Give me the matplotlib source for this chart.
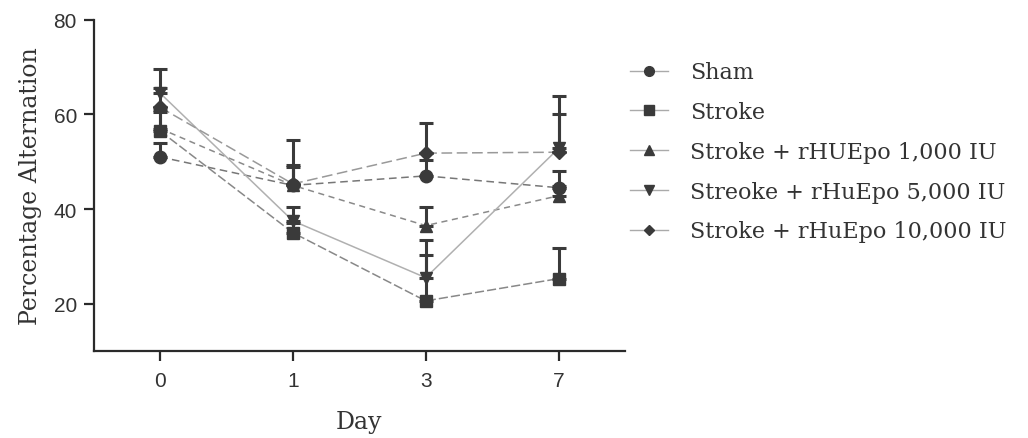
import numpy as np
import matplotlib
matplotlib.use('Agg')
import matplotlib.pyplot as plt

# data (upper SEM only)
days = ['0', '1', '3', '7']
sham = [51.0, 45.0, 47.0, 44.5]
sham_err = [3.0, 3.8, 3.3, 3.6]
stroke = [56.5, 35.0, 20.6, 25.3]
stroke_err = [4.0, 2.0, 9.6, 6.4]
epo1000 = [57.0, 45.0, 36.5, 42.8]
epo1000_err = [4.0, 9.6, 4.0, 2.0]
epo5000 = [64.5, 37.5, 25.5, 52.8]
epo5000_err = [5.0, 3.0, 8.0, 11.0]
epo10000 = [61.5, 45.3, 51.8, 52.0]
epo10000_err = [4.0, 4.0, 6.4, 8.0]

labels = ['Sham', 'Stroke', 'Stroke + rHUEpo 1,000 IU',
          'Streoke + rHuEpo 5,000 IU', 'Stroke + rHuEpo 10,000 IU']
series = [sham, stroke, epo1000, epo5000, epo10000]
errs = [sham_err, stroke_err, epo1000_err, epo5000_err, epo10000_err]
markers = ['o', 's', '^', 'v', 'D']
msizes = [9, 9, 9, 9, 7]
styles = [(0, (5, 3)), (0, (6, 2)), (0, (4, 3)), '-', (0, (7, 3))]
lcolors = ['#777777', '#888888', '#8a8a8a', '#b0b0b0', '#999999']

fig = plt.figure(figsize=(10.28, 4.39), dpi=100)
ax = fig.add_axes([0.091, 0.198, 0.517, 0.755])

x = np.arange(len(days))
mk = '#3a3a3a'
for y, e, m, ms, ls, lc, lab in zip(series, errs, markers, msizes, styles, lcolors, labels):
    ax.errorbar(x, y, yerr=[np.zeros(len(e)), e], fmt='none', ecolor=mk,
                elinewidth=2.2, capsize=5, capthick=2.2, zorder=3)
    ax.plot(x, y, linestyle=ls, color=lc, linewidth=1.1, zorder=2)
    ax.plot(x, y, linestyle='none', marker=m, markersize=ms, color=mk, zorder=4)
    ax.plot([], [], linestyle='-', color='#aaaaaa', linewidth=1.0,
            marker=m, markersize=ms - 2, markerfacecolor=mk, markeredgecolor=mk, label=lab)

ax.set_xlim(-0.5, 3.5)
ax.set_ylim(10, 80)
ax.set_xticks(x)
ax.set_xticklabels(days, fontfamily='Liberation Sans', fontsize=15)
ax.set_yticks([20, 40, 60, 80])
ax.set_yticklabels(['20', '40', '60', '80'], fontfamily='Liberation Sans', fontsize=15)
for s in ['top', 'right']:
    ax.spines[s].set_visible(False)
for s in ['left', 'bottom']:
    ax.spines[s].set_linewidth(1.6)
    ax.spines[s].set_color('#2a2a2a')
ax.tick_params(axis='both', length=7, width=1.6, color='#2a2a2a',
               labelcolor='#333333', pad=5)
ax.tick_params(axis='x', pad=7)

ax.set_ylabel('Percentage Alternation', fontfamily='DejaVu Serif', fontsize=17,
              color='#333333', labelpad=8)
ax.set_xlabel('Day', fontfamily='DejaVu Serif', fontsize=17, color='#333333', labelpad=15)

fig.legend(loc='upper left', bbox_to_anchor=(0.613, 0.858), frameon=False,
           prop={'family': 'DejaVu Serif', 'size': 16}, handlelength=1.7,
           handletextpad=1.0, labelspacing=0.8, borderpad=0, borderaxespad=0,
           labelcolor='#333333')

fig.savefig('out.png', dpi=100)
